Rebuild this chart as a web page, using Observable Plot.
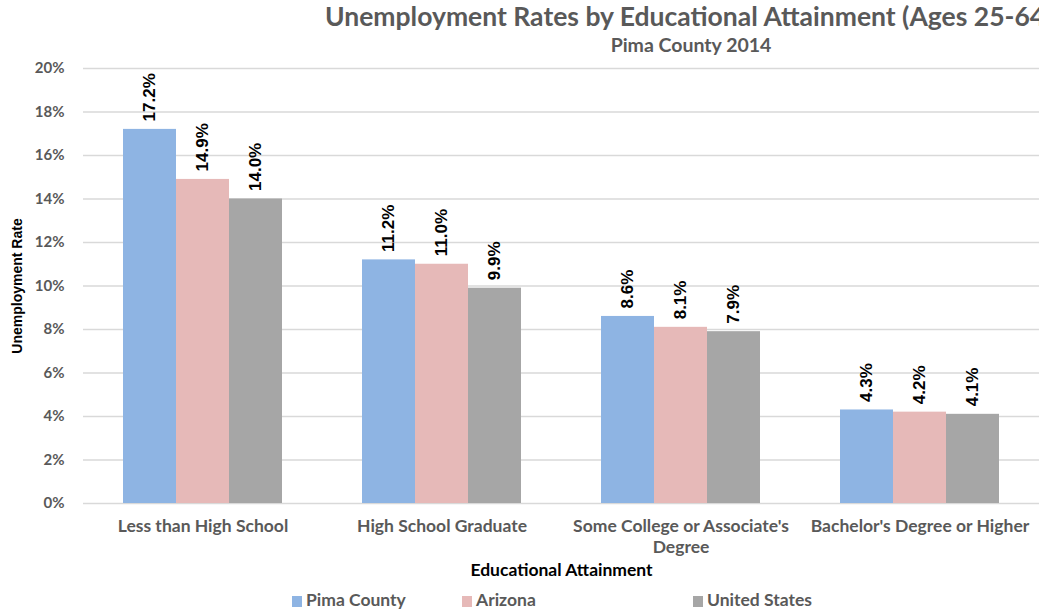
<!DOCTYPE html>
<html>
<head>
<meta charset="utf-8">
<script src="https://cdn.jsdelivr.net/npm/d3@7"></script>
<script src="https://cdn.jsdelivr.net/npm/@observablehq/plot@0.6"></script>
<style>
  html, body { margin: 0; padding: 0; background: #fff; overflow: hidden; }
  #root { position: relative; width: 1039px; height: 611px; overflow: hidden; font-family: Lato, "Open Sans", sans-serif; }
  #title { position: absolute; left: 325px; top: 0px; font-size: 26.5px; font-weight: 700; color: #595959; white-space: nowrap; }
  #subtitle { position: absolute; left: 0; width: 1382px; top: 33px; text-align: center; font-size: 19.5px; font-weight: 700; color: #595959; white-space: nowrap; }
  #chart { position: absolute; left: 0; top: 54px; }
  #legend { position: absolute; left: 0; top: 590px; width: 1039px; height: 21px; font-size: 17.5px; font-weight: 700; color: #595959; }
  .item { position: absolute; top: 0; line-height: 20px; white-space: nowrap; }
  .sw { display: inline-block; width: 10px; height: 11px; margin-right: 4px; vertical-align: -1px; }
  g[aria-label="y-axis label"] text, g[aria-label="fx-axis label"] text { fill: #000; }
  g[aria-label="y-axis label"] { font-family: "Liberation Sans Narrow", "Liberation Sans", sans-serif; font-size: 14px; }
  g[aria-label="fx-axis label"] { font-size: 17.5px; }
</style>
</head>
<body>
<div id="root">
  <div id="title">Unemployment Rates by Educational Attainment (Ages 25-64)</div>
  <div id="subtitle">Pima County 2014</div>
  <div id="chart"></div>
  <div id="legend"></div>
</div>
<script>
const categories = ["Less than High School", "High School Graduate", "Some College or Associate's Degree", "Bachelor's Degree or Higher"];
const categoryLabels = ["Less than High School", "High School Graduate", "Some College or Associate's\nDegree", "Bachelor's Degree or Higher"];
const seriesNames = ["Pima County", "Arizona", "United States"];
const pimaCounty = [17.2, 11.2, 8.6, 4.3];
const arizona = [14.9, 11.0, 8.1, 4.2];
const unitedStates = [14.0, 9.9, 7.9, 4.1];
const yTicks = [0, 2, 4, 6, 8, 10, 12, 14, 16, 18, 20];
const seriesColors = ["#8EB4E3", "#E6B9B8", "#A6A6A6"];

const seriesValues = [pimaCounty, arizona, unitedStates];
const data = [];
categories.forEach((c, i) => {
  seriesNames.forEach((s, j) => data.push({category: c, series: s, value: seriesValues[j][i]}));
});

const chart = Plot.plot({
  width: 1039,
  height: 536,
  marginLeft: 83,
  marginRight: 0,
  marginTop: 14,
  marginBottom: 87,
  style: {fontFamily: "Lato, 'Open Sans', sans-serif", fontSize: "15px", fontWeight: "bold", color: "#595959", background: "transparent"},
  fx: {domain: categories, padding: 0},
  x: {domain: seriesNames, paddingInner: 0, paddingOuter: 0.73, axis: null},
  y: {domain: [0, 20]},
  color: {domain: seriesNames, range: seriesColors},
  marks: [
    Plot.gridY({ticks: yTicks, stroke: "#D9D9D9", strokeOpacity: 1, strokeWidth: 1.5}),
    Plot.barY(data, {fx: "category", x: "series", y: "value", fill: "series"}),
    Plot.text(data, {
      fx: "category", x: "series", y: "value",
      text: d => d.value.toFixed(1) + "%",
      rotate: -90, textAnchor: "start", lineAnchor: "middle", dy: -8,
      fill: "#000", fontSize: 17, fontWeight: "bold",
      fontFamily: "'Liberation Sans Narrow', 'Liberation Sans', sans-serif"
    }),
    Plot.axisY({ticks: yTicks, tickFormat: d => d + "%", tickSize: 0, tickPadding: 19, fontSize: 15,
      label: "Unemployment Rate", labelAnchor: "center", labelOffset: 71, labelArrow: "none"}),
    Plot.axisFx({anchor: "bottom", tickSize: 0, tickPadding: 14, fontSize: 17.5, lineHeight: 1.2,
      tickFormat: d => categoryLabels[categories.indexOf(d)],
      label: "Educational Attainment", labelAnchor: "center", labelOffset: 72, labelArrow: "none"})
  ]
});
document.getElementById("chart").appendChild(chart);

const legendLefts = [292, 462, 693];
const legend = document.getElementById("legend");
seriesNames.forEach((s, i) => {
  const item = document.createElement("div");
  item.className = "item";
  item.style.left = legendLefts[i] + "px";
  const sw = document.createElement("span");
  sw.className = "sw";
  sw.style.background = seriesColors[i];
  item.appendChild(sw);
  item.appendChild(document.createTextNode(s));
  legend.appendChild(item);
});
</script>
</body>
</html>
